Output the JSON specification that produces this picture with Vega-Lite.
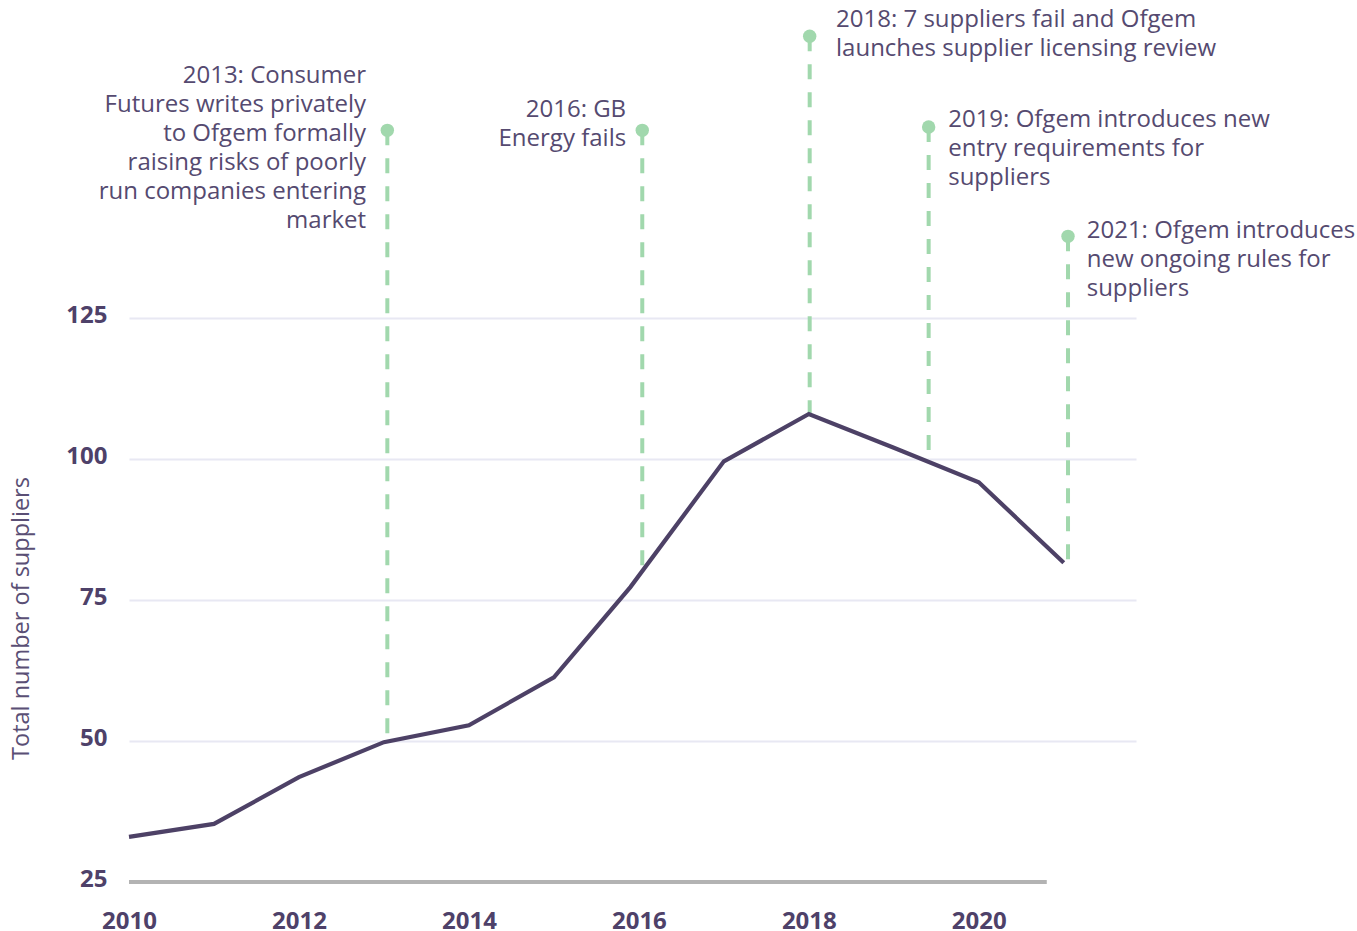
{
  "$schema": "https://vega.github.io/schema/vega-lite/v6.json",
  "width": 1007,
  "height": 874,
  "autosize": {"type": "none"},
  "padding": {"left": 129, "top": 8, "right": 221, "bottom": 49},
  "background": "white",
  "config": {"view": {"stroke": null}, "font": "Open Sans"},
  "datasets": {
    "suppliers": [
      {"year": 2010, "suppliers": 33.0},
      {"year": 2011, "suppliers": 35.3},
      {"year": 2012, "suppliers": 43.6},
      {"year": 2013, "suppliers": 49.8},
      {"year": 2014, "suppliers": 52.8},
      {"year": 2015, "suppliers": 61.3},
      {"year": 2015.9, "suppliers": 77.3},
      {"year": 2017, "suppliers": 99.6},
      {"year": 2018, "suppliers": 108.0},
      {"year": 2019, "suppliers": 102.0},
      {"year": 2020, "suppliers": 95.9},
      {"year": 2021, "suppliers": 81.6}
    ],
    "events": [
      {"event": 2013.04, "top": 158.3, "end": 50.0, "label_x": 2012.79, "label_y": 170.0, "text": ["2013: Consumer", "Futures writes privately", "to Ofgem formally", "raising risks of poorly", "run companies entering", "market"]},
      {"event": 2016.04, "top": 158.3, "end": 80.7, "label_x": 2015.85, "label_y": 164.0, "text": ["2016: GB", "Energy fails"]},
      {"event": 2018.01, "top": 175.0, "end": 108.0, "label_x": 2018.32, "label_y": 180.0, "text": ["2018: 7 suppliers fail and Ofgem", "launches supplier licensing review"]},
      {"event": 2019.41, "top": 158.9, "end": 99.8, "label_x": 2019.64, "label_y": 162.2, "text": ["2019: Ofgem introduces new", "entry requirements for", "suppliers"]},
      {"event": 2021.05, "top": 139.5, "end": 81.2, "label_x": 2021.27, "label_y": 142.6, "text": ["2021: Ofgem introduces", "new ongoing rules for", "suppliers"]}
    ],
    "baseline": [{"from": 2010, "to": 2020.8, "level": 25}]
  },
  "layer": [
    {
      "data": {"name": "baseline"},
      "mark": {"type": "rule", "color": "#b3b3b3", "strokeWidth": 4},
      "encoding": {
        "x": {"field": "from", "type": "quantitative", "scale": {"domain": [2010, 2021.85], "nice": false, "zero": false},
          "axis": {"values": [2010, 2012, 2014, 2016, 2018, 2020], "format": "d", "title": null, "grid": false, "domain": false, "ticks": false,
            "labelFlush": false, "labelBound": false,
            "labelFontSize": 24, "labelFontWeight": "bold", "labelColor": "#4e4169", "labelPadding": 27, "labelFont": "Open Sans"}},
        "x2": {"field": "to"},
        "y": {"field": "level", "type": "quantitative", "scale": {"domain": [25, 180], "nice": false, "zero": false},
          "axis": {"values": [25, 50, 75, 100, 125], "title": "Total number of suppliers", "domain": false, "ticks": false,
            "grid": true, "gridWidth": 2, "labelFlush": false, "labelBound": false,
            "gridColor": {"condition": {"test": "datum.value == 25", "value": "transparent"}, "value": "#e8e8f3"},
            "labelFontSize": 24, "labelFontWeight": "bold", "labelColor": "#4e4169", "labelPadding": 22, "labelOffset": -3, "labelFont": "Open Sans",
            "titleFontSize": 23.5, "titleFontWeight": "normal", "titleColor": "#5a4f75", "titleFont": "Open Sans",
            "titleAngle": -90, "titleAlign": "center", "titleBaseline": "alphabetic", "titleX": -101, "titleY": 610}}
      }
    },
    {
      "data": {"name": "events"},
      "mark": {"type": "rule", "color": "#a1d8ad", "strokeWidth": 4, "strokeDash": [15, 13]},
      "encoding": {
        "x": {"field": "event", "type": "quantitative"},
        "y": {"field": "top", "type": "quantitative"},
        "y2": {"field": "end"}
      }
    },
    {
      "data": {"name": "events"},
      "mark": {"type": "point", "shape": "circle", "filled": true, "color": "#a1d8ad", "opacity": 1, "size": 180},
      "encoding": {
        "x": {"field": "event", "type": "quantitative"},
        "y": {"field": "top", "type": "quantitative"}
      }
    },
    {
      "data": {"name": "suppliers"},
      "mark": {"type": "line", "color": "#4d4166", "strokeWidth": 4.2},
      "encoding": {
        "x": {"field": "year", "type": "quantitative"},
        "y": {"field": "suppliers", "type": "quantitative"}
      }
    },
    {
      "data": {"name": "events"},
      "transform": [{"filter": "datum.event < 2017"}],
      "mark": {"type": "text", "align": "right", "baseline": "top", "fontSize": 24, "lineHeight": 29, "color": "#554a70", "font": "Open Sans"},
      "encoding": {
        "x": {"field": "label_x", "type": "quantitative"},
        "y": {"field": "label_y", "type": "quantitative"},
        "text": {"field": "text"}
      }
    },
    {
      "data": {"name": "events"},
      "transform": [{"filter": "datum.event > 2017"}],
      "mark": {"type": "text", "align": "left", "baseline": "top", "fontSize": 24, "lineHeight": 29, "color": "#554a70", "font": "Open Sans"},
      "encoding": {
        "x": {"field": "label_x", "type": "quantitative"},
        "y": {"field": "label_y", "type": "quantitative"},
        "text": {"field": "text"}
      }
    }
  ]
}
